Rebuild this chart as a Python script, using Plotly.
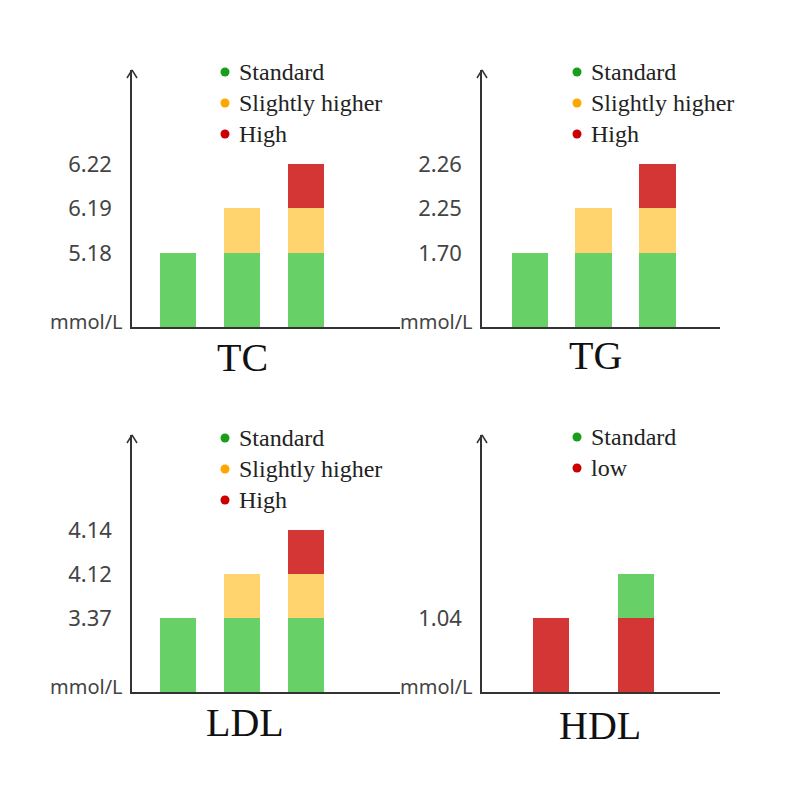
import plotly.graph_objs as go

# segment heights (arbitrary units, stacked) and tick labels per panel
tc_green = [74, 74, 74]
tc_yellow = [0, 45, 45]
tc_red = [0, 0, 44]
tc_ticks = ["5.18", "6.19", "6.22"]

tg_green = [74, 74, 74]
tg_yellow = [0, 45, 45]
tg_red = [0, 0, 44]
tg_ticks = ["1.70", "2.25", "2.26"]

ldl_green = [74, 74, 74]
ldl_yellow = [0, 44, 44]
ldl_red = [0, 0, 44]
ldl_ticks = ["3.37", "4.12", "4.14"]

hdl_red = [74, 74]
hdl_green = [0, 44]
hdl_ticks = ["1.04"]

GREEN, YELLOW, RED = "#67d167", "#ffd46f", "#d43636"
W = 790
OFF = 8  # page body margin

def px(x):
    return (x - OFF) / W

def py(y):
    return 1 - (y - OFF) / W

fig = go.Figure()

panels = [
    ("TC", (132, 400), (327, 70), [-0.72, 3.47], 0.57,
     [(tc_green, GREEN), (tc_yellow, YELLOW), (tc_red, RED)], tc_ticks),
    ("TG", (482, 720), (327, 70), [-0.75, 2.98], 0.57,
     [(tg_green, GREEN), (tg_yellow, YELLOW), (tg_red, RED)], tg_ticks),
    ("LDL", (132, 400), (692, 435), [-0.72, 3.47], 0.57,
     [(ldl_green, GREEN), (ldl_yellow, YELLOW), (ldl_red, RED)], ldl_ticks),
    ("HDL", (482, 720), (692, 435), [-0.81, 1.99], 0.42,
     [(hdl_red, RED), (hdl_green, GREEN)], hdl_ticks),
]

layout = {}
for i, (name, xd, yd, xr, bw, stacks, ticks) in enumerate(panels):
    n = "" if i == 0 else str(i + 1)
    xa, ya = "x" + n, "y" + n
    for vals, col in stacks:
        fig.add_trace(go.Bar(x=list(range(len(vals))), y=vals, marker_color=col,
                             width=bw, xaxis=xa, yaxis=ya, showlegend=False,
                             marker_line_width=0))
    # tick positions at stack tops
    first = stacks[0][0]
    tops = [max(first)]
    acc = list(first)
    for vals, _ in stacks[1:]:
        acc = [a + v for a, v in zip(acc, vals)]
        tops.append(max(acc))
    tickvals = tops[:len(ticks)]
    layout["xaxis" + n] = dict(domain=[px(xd[0]), px(xd[1])], range=xr,
                               showticklabels=False, showgrid=False, zeroline=False,
                               showline=True, linecolor="#333", linewidth=1.5,
                               anchor=ya, fixedrange=True)
    layout["yaxis" + n] = dict(domain=[py(yd[0]), py(yd[1])], range=[0, yd[0] - yd[1]],
                               tickvals=tickvals, ticktext=ticks, showgrid=False,
                               zeroline=False, showline=True, linecolor="#333",
                               linewidth=1.5, anchor=xa, ticks="",
                               tickfont=dict(size=22, color="#444", family="Noto Sans"),
                               ticklabelstandoff=14)

fig.update_layout(**layout)

shapes = []
annotations = []
legends = [
    ((225, 72), [("Standard", "#1a9e1a"), ("Slightly higher", "#ffa500"), ("High", "#cc0000")]),
    ((577, 72), [("Standard", "#1a9e1a"), ("Slightly higher", "#ffa500"), ("High", "#cc0000")]),
    ((225, 438), [("Standard", "#1a9e1a"), ("Slightly higher", "#ffa500"), ("High", "#cc0000")]),
    ((577, 437), [("Standard", "#1a9e1a"), ("low", "#cc0000")]),
]
for (lx, ly), items in legends:
    for k, (txt, col) in enumerate(items):
        y = ly + k * 31
        shapes.append(dict(type="circle", xref="paper", yref="paper",
                           x0=px(lx - 4.5), x1=px(lx + 4.5), y0=py(y + 4.5), y1=py(y - 4.5),
                           fillcolor=col, line_width=0))
        annotations.append(dict(text=txt, x=px(lx + 12), y=py(y), xref="paper", yref="paper",
                                xanchor="left", yanchor="middle", showarrow=False,
                                font=dict(size=24, color="#222", family="Liberation Serif")))

titles = [("TC", 242, 358), ("TG", 595, 355), ("LDL", 245, 722), ("HDL", 600, 725)]
for t, x, y in titles:
    annotations.append(dict(text=t, x=px(x), y=py(y), xref="paper", yref="paper",
                            xanchor="center", yanchor="middle", showarrow=False,
                            font=dict(size=40, color="#111", family="Liberation Serif")))

for name, xd, yd, *_ in panels:
    annotations.append(dict(text="mmol/L", x=px(xd[0] - 7), y=py(yd[0] - 6), xref="paper",
                            yref="paper", xanchor="right", yanchor="middle", showarrow=False,
                            font=dict(size=20, color="#444", family="Noto Sans")))
    # arrow tip on y axis
    for dx in (-5, 5):
        shapes.append(dict(type="line", xref="paper", yref="paper",
                           x0=px(xd[0] + dx), y0=py(yd[1] + 8), x1=px(xd[0]), y1=py(yd[1]),
                           line=dict(color="#333", width=1.5)))

fig.update_layout(width=790, height=790, margin=dict(l=0, r=0, t=0, b=0),
                  plot_bgcolor="white", paper_bgcolor="white", barmode="stack",
                  bargap=0, shapes=shapes, annotations=annotations)

fig.write_html("out.html")
